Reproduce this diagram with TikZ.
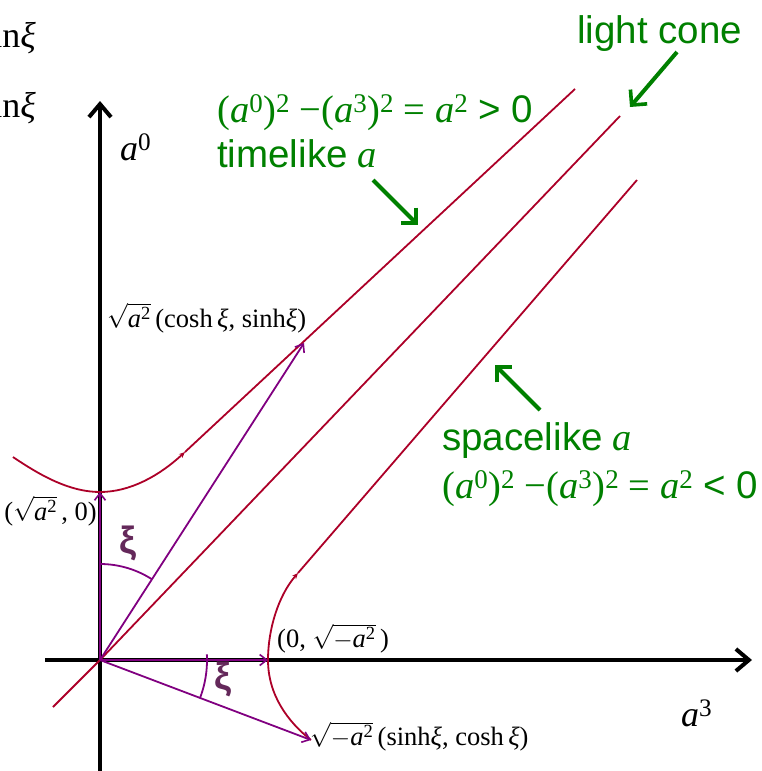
\documentclass[tikz,border=0pt]{standalone}
\usepackage{amsmath}
\usepackage{fontspec}
\setmainfont{Liberation Serif}
\newfontfamily\sansf{Liberation Sans}
\usetikzlibrary{arrows.meta}
\definecolor{redc}{RGB}{172,0,40}
\definecolor{purp}{RGB}{128,0,128}
\definecolor{dpurp}{RGB}{100,40,90}
\definecolor{grn}{RGB}{0,128,0}
\tikzset{
  axis/.style={line width=4.5pt,-{Straight Barb[length=13pt,width=22pt,line width=4pt]}},
  rline/.style={draw=redc,line width=1.8pt},
  vec/.style={draw=purp,line width=1.8pt,-{Straight Barb[length=7pt,width=11pt,line width=1.6pt]}},
  garr/.style={draw=grn,line width=4pt,-{Straight Barb[length=11pt,width=22pt,line width=3.6pt]}},
  glab/.style={text=grn,inner sep=0pt,anchor=base west,font=\fontsize{38.5}{40}\selectfont},
  blab/.style={inner sep=0pt,anchor=base west,font=\fontsize{26.5}{28}\selectfont},
  alab/.style={inner sep=0pt,anchor=base west,font=\fontsize{36}{38}\selectfont},
  xilab/.style={text=dpurp,inner sep=0pt,font=\sansf\bfseries\fontsize{38}{40}\selectfont},
}
\begin{document}
\begin{tikzpicture}[x=1pt,y=-1pt]
\useasboundingbox (0,0) rectangle (762,771);
% coordinates
\coordinate (O) at (100,660);
\coordinate (Ytop) at (100,101);
\coordinate (Ybot) at (100,775);
\coordinate (Xl) at (45,660);
\coordinate (Xr) at (752,660);
\coordinate (P) at (304,343);
\coordinate (T0) at (100,492);
\coordinate (S0) at (268,660);
\coordinate (Q) at (311,740);
\coordinate (Tl) at (13,457);
\coordinate (Tj) at (185,452);
\coordinate (Te) at (575,89);
\coordinate (Sj) at (298,573);
\coordinate (Se) at (637,180);
\coordinate (Lb) at (53,707);
\coordinate (Le) at (620,116);
% axes
\draw[axis] (Ybot) -- (Ytop);
\draw[axis] (Xl) -- (Xr);
% light cone
\draw[rline] (Lb) -- (O) -- (Le);
% timelike hyperbola
\draw[rline] (Tl) .. controls (41,476) and (70,492) .. (T0);
\draw[rline,-{Stealth[length=6pt,width=5pt]}] (T0) .. controls (130,492) and (159,476) .. (Tj);
\draw[rline] (Tj) -- (Te);
% spacelike hyperbola
\draw[rline] (Q) .. controls (288,722) and (268,695) .. (S0);
\draw[rline,-{Stealth[length=6pt,width=5pt]}] (S0) .. controls (268,630) and (278,596) .. (Sj);
\draw[rline] (Sj) -- (Se);
% vectors
\draw[vec] (O) -- (T0);
\draw[vec] (O) -- (P);
\draw[vec] (O) -- (S0);
\draw[vec] (O) -- (Q);
% angle arcs
\draw[purp,line width=1.8pt] plot[domain=0:32.6,samples=30,variable=\t] ({100+96*sin(\t)},{660-96*cos(\t)});
\draw[purp,line width=1.8pt] plot[domain=-3:21,samples=30,variable=\t] ({100+107*cos(\t)},{660+107*sin(\t)});
\node[xilab] (xi1) at (128,543) {ξ};
\node[xilab] (xi2) at (223,679) {ξ};
% axis labels
\node[alab] (a0) at (120,160) {\textit{a}\textsuperscript{0}};
\node[alab] (a3) at (681,726) {\textit{a}\textsuperscript{3}};
% point labels
\node[blab] (lP) at (107,327) {$\sqrt{\textit{a}^{\text{2}}}$\,(cosh\,\textit{ξ}, sinh\textit{ξ})};
\node[blab,anchor=base east] (lT0) at (97,520) {($\sqrt{\textit{a}^{\text{2}}}$\,, 0)};
\node[blab] (lS0) at (277,647) {(0, $\sqrt{-\textit{a}^{\text{2}}}$\,)};
\node[blab] (lQ) at (310,745) {$\sqrt{-\textit{a}^{\text{2}}}$\,(sinh\textit{ξ}, cosh\,\textit{ξ})};
% cut-off text at top left
\node[alab,anchor=base east] (c1) at (36,47) {sin\textit{ξ}};
\node[alab,anchor=base east] (c2) at (36,117) {sin\textit{ξ}};
% green labels
\node[glab] (g1) at (217,122) {(\textit{a}\textsuperscript{0})\textsuperscript{2} −(\textit{a}\textsuperscript{3})\textsuperscript{2} = \textit{a}\textsuperscript{2} {\sansf > 0}};
\node[glab] (g2) at (217,167) {{\sansf timelike} \textit{a}};
\node[glab] (g3) at (577,43) {\sansf light cone};
\node[glab] (g4) at (442,450) {{\sansf spacelike} \textit{a}};
\node[glab] (g5) at (442,498) {(\textit{a}\textsuperscript{0})\textsuperscript{2} −(\textit{a}\textsuperscript{3})\textsuperscript{2} = \textit{a}\textsuperscript{2} {\sansf < 0}};
\coordinate (ga1s) at (373,180);
\coordinate (ga1e) at (418,225);
\coordinate (ga2s) at (677,52);
\coordinate (ga2e) at (630,107);
\coordinate (ga3s) at (540,410);
\coordinate (ga3e) at (495,365);
\draw[garr] (ga1s) -- (ga1e);
\draw[garr] (ga2s) -- (ga2e);
\draw[garr] (ga3s) -- (ga3e);
\end{tikzpicture}
\end{document}
